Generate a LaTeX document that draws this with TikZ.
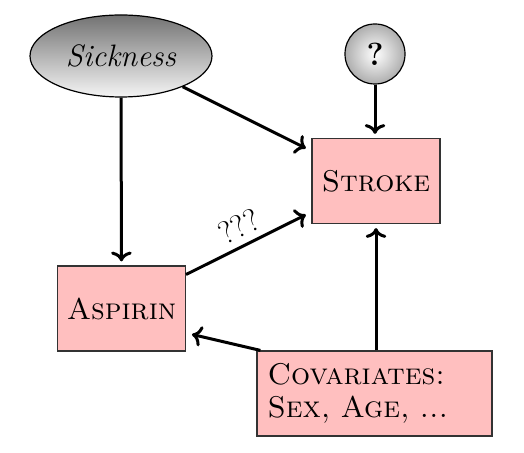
\documentclass[tikz,border=0pt]{standalone}
\usetikzlibrary{shapes.geometric,arrows.meta,calc}
\begin{document}
\begin{tikzpicture}[x=0.5pt,y=-0.5pt,
  box/.style={draw=black!80, line width=0.6pt, fill=red!25, inner sep=0pt, minimum width=64pt, minimum height=42.5pt, font=\fontsize{15}{18}\selectfont\scshape},
  arr/.style={->, line width=1.5pt, shorten >=2pt}]
\useasboundingbox (0,0) rectangle (524,453);
\node[ellipse, draw=black, line width=0.6pt, top color=black!55, bottom color=black!4, minimum width=91pt, minimum height=41pt, inner sep=0pt, font=\fontsize{15.5}{18}\selectfont\itshape] (Sick) at (121,56) {Sickness};
\node[circle, draw=black, line width=0.6pt, inner color=white, outer color=black!32, minimum size=30pt, inner sep=0pt, font=\fontsize{16}{18}\selectfont\bfseries] (Q) at (375,54) {?};
\node[box] (Stroke) at (376,181) {Stroke};
\node[box] (Asp) at (121.5,308.5) {Aspirin};
\node[box, minimum width=117.5pt, align=left, text width=107pt, font=\fontsize{15}{16.5}\selectfont\scshape] (Cov) at (374.5,393.5) {Covariates:\\Sex, Age, ...};
\draw[arr] (Sick) -- (Asp);
\draw[arr] (Sick) -- ($(Stroke.west)+(-2,-31)$);
\draw[arr] (Q) -- (Q |- Stroke.north);
\draw[arr] ($(Asp.east)+(0,-34)$) -- node[sloped, above, font=\fontsize{16}{18}\selectfont] {???} ($(Stroke.west)+(-2,32)$);
\draw[arr] (Cov.north -| Stroke.south) -- (Stroke.south);
\draw[arr] ($(Cov.north west)+(4,0)$) -- ($(Asp.east)+(2,25)$);
\end{tikzpicture}
\end{document}
